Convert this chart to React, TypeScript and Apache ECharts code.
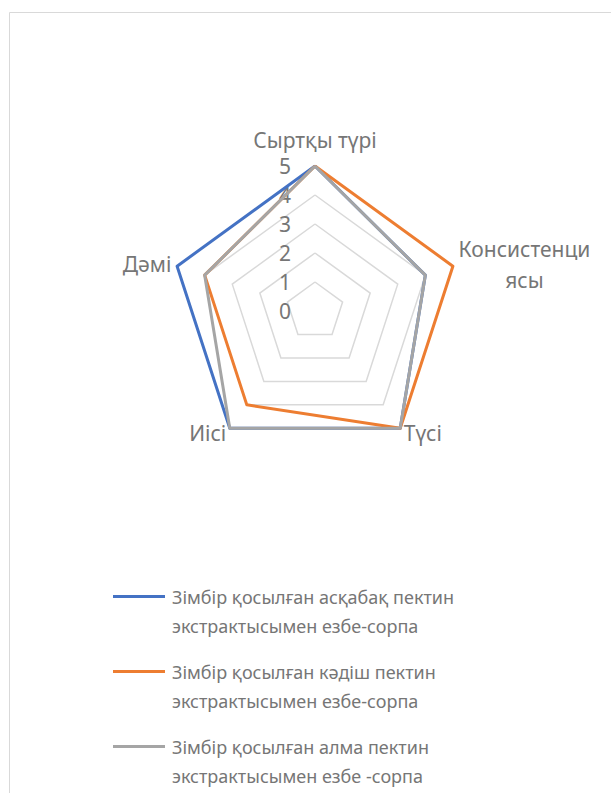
import React, { useEffect, useRef } from "react";
import * as echarts from "echarts";

// Indicators in ECharts order (counter-clockwise from top)
const categories = ["Сыртқы түрі", "Дәмі", "Иісі", "Түсі", "Консистенци\nясы"];
const maxValue = 5;
const seriesNames = [
  "Зімбір қосылған асқабақ пектин\nэкстрактысымен езбе-сорпа",
  "Зімбір қосылған кәдіш пектин\nэкстрактысымен езбе-сорпа",
  "Зімбір қосылған алма пектин\nэкстрактысымен езбе -сорпа",
];
const pumpkin = [5, 5, 5, 5, 4];
const zucchini = [5, 4, 4, 5, 5];
const apple = [5, 4, 5, 5, 4];
const colors = ["#4472C4", "#ED7D31", "#A5A5A5"];

export default function App() {
  const ref = useRef<HTMLDivElement>(null);
  useEffect(() => {
    document.body.style.margin = "0";
    const chart = echarts.init(ref.current!, null, { renderer: "svg" });
    const values = [pumpkin, zucchini, apple];
    chart.setOption({
      animation: false,
      backgroundColor: "#ffffff",
      textStyle: { fontFamily: "Noto Sans" },
      graphic: [
        {
          type: "rect",
          shape: { x: 9.5, y: 12.5, width: 700, height: 900 },
          style: { fill: "none", stroke: "#d9d9d9", lineWidth: 1 },
          silent: true,
        },
      ],
      legend: {
        orient: "vertical",
        left: 113,
        top: 553,
        height: 400,
        padding: 0,
        itemWidth: 52,
        itemHeight: 3,
        itemGap: -12,
        icon: "rect",
        data: seriesNames,
        formatter: (name: string) => "\n" + name,
        textStyle: {
          color: "#767676",
          fontSize: 18,
          lineHeight: 29,
          padding: [0, 0, 0, 2],
        },
      },
      radar: {
        center: [315, 311],
        radius: 145,
        startAngle: 90,
        shape: "polygon",
        splitNumber: 5,
        nameGap: 6,
        axisName: {
          color: "#767676",
          fontSize: 21,
          lineHeight: 31,
          formatter: (name: string) => {
            const parts = name.split("\n");
            if (parts.length < 2) return name;
            return parts[0] + "\n{c|" + parts[1] + "}";
          },
          rich: {
            c: {
              color: "#767676",
              fontSize: 21,
              lineHeight: 31,
              fontFamily: "Noto Sans",
              width: 131,
              align: "center",
            },
          },
        },
        indicator: categories.map((name, i) =>
          i === 0
            ? { name, min: 0, max: maxValue }
            : { name, min: 0, max: maxValue, axisLabel: { show: false } }
        ),
        axisLine: { show: false },
        axisTick: { show: false },
        axisLabel: {
          show: true,
          color: "#767676",
          fontSize: 21,
          margin: 24,
          showMinLabel: true,
          showMaxLabel: true,
        },
        splitLine: { lineStyle: { color: "#d9d9d9", width: 1.5 } },
        splitArea: { show: false },
      },
      series: [
        {
          type: "radar",
          symbol: "none",
          data: values.map((v, i) => ({
            name: seriesNames[i],
            value: v,
            lineStyle: { color: colors[i], width: 3 },
            itemStyle: { color: colors[i] },
          })),
        },
      ],
    });
    return () => chart.dispose();
  }, []);
  return <div ref={ref} style={{ width: 611, height: 793 }} />;
}
